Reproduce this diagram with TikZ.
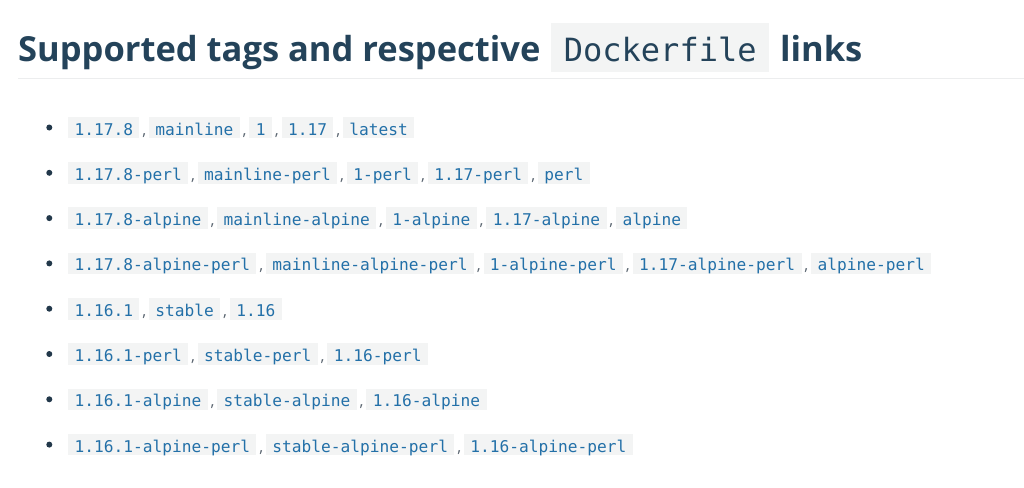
\documentclass[tikz,border=0pt]{standalone}
\usepackage{fontspec}
\setmainfont{Open Sans}
\setmonofont{DejaVu Sans Mono}
\usetikzlibrary{positioning}
\definecolor{headcol}{HTML}{24435A}
\definecolor{tagcol}{HTML}{2370A8}
\definecolor{codebg}{HTML}{F3F4F4}
\definecolor{rulecol}{HTML}{ECEDEE}
\definecolor{dotcol}{HTML}{22384A}
\definecolor{sepcol}{HTML}{5A6570}
\begin{document}
\begin{tikzpicture}
[x=1pt,y=-1pt,
heading/.style={inner sep=0pt,anchor=base west,text=headcol,font=\fontsize{34.5}{42}\selectfont\bfseries},
headcode/.style={fill=codebg,text=headcol,inner xsep=12.8pt,inner ysep=0pt,text height=38.4pt,text depth=10pt,font=\fontsize{32}{38}\selectfont\ttfamily},
tag/.style={fill=codebg,text=tagcol,inner xsep=6.4pt,inner ysep=0pt,text height=18.3pt,text depth=3.3pt,font=\fontsize{16.2}{19}\selectfont\ttfamily},
sep/.style={inner sep=0pt,minimum width=8.8pt,text height=18.3pt,text depth=3.3pt,text=sepcol,font=\fontsize{16}{19}\selectfont},
dot/.style={circle,fill=dotcol,inner sep=0pt,minimum size=6pt}]
\useasboundingbox[fill=white] (0,0) rectangle (1024,487);

% heading
\node[heading] (h1) at (18,61.7) {Supported tags and respective};
\node[headcode,right=10.3pt of h1.base east,anchor=base west] (h2) {Dockerfile};
\node[heading,right=10.3pt of h2.base east,anchor=base west] (h3) {links};
\draw[rulecol,line width=1.5pt] (18,78.5) -- (1024,78.5);

% tag list
\foreach \tags [count=\row] in {
  {1.17.8,mainline,1,1.17,latest},
  {1.17.8-perl,mainline-perl,1-perl,1.17-perl,perl},
  {1.17.8-alpine,mainline-alpine,1-alpine,1.17-alpine,alpine},
  {1.17.8-alpine-perl,mainline-alpine-perl,1-alpine-perl,1.17-alpine-perl,alpine-perl},
  {1.16.1,stable,1.16},
  {1.16.1-perl,stable-perl,1.16-perl},
  {1.16.1-alpine,stable-alpine,1.16-alpine},
  {1.16.1-alpine-perl,stable-alpine-perl,1.16-alpine-perl}} {
  \node[dot] (b\row) at (49.3,{127.5+(\row-1)*45.3}) {};
  \foreach \tg [count=\i] in \tags {
    \ifnum\i=1
      \node[tag,right=15.4pt of b\row] (t\row-\i) {\tg};
    \else
      \pgfmathtruncatemacro\p{\i-1}
      \node[sep,right=0pt of t\row-\p] (c\row-\i) {,};
      \node[tag,right=0pt of c\row-\i] (t\row-\i) {\tg};
    \fi
  }
}
\end{tikzpicture}
\end{document}
